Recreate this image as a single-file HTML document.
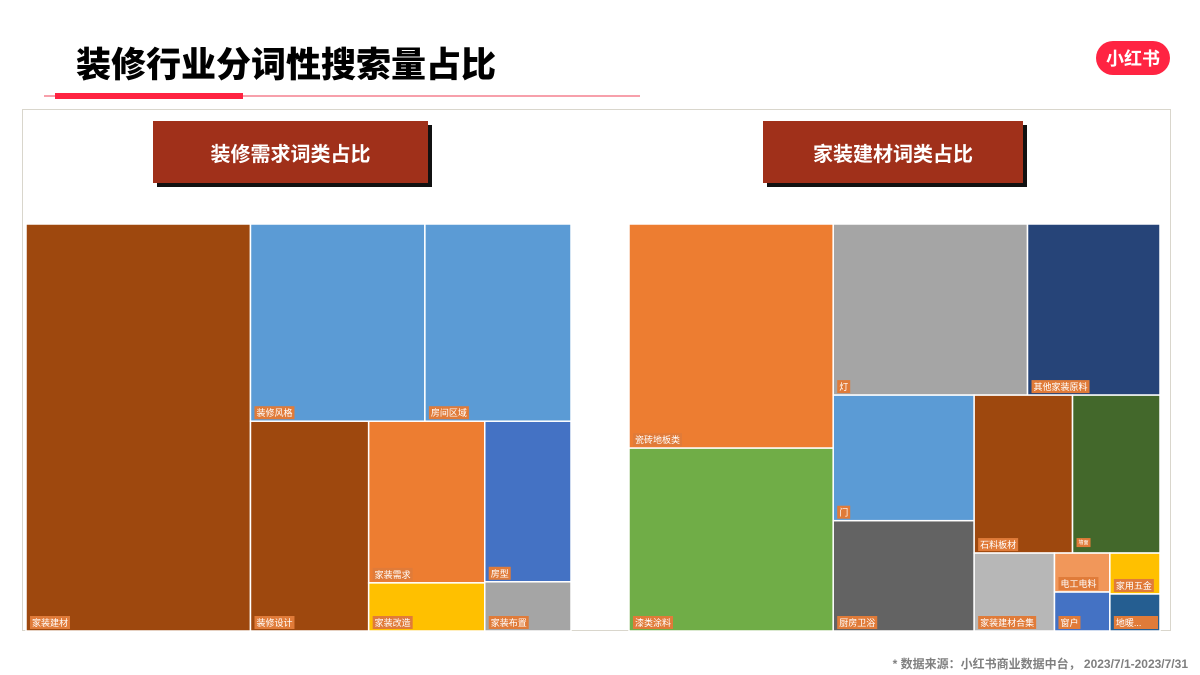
<!DOCTYPE html>
<html><head><meta charset="utf-8">
<style>
body{margin:0;width:1200px;height:675px;background:#fff;overflow:hidden;position:relative;font-family:"Liberation Sans","Noto Sans CJK SC",sans-serif}
.abs{position:absolute}
.hdr{position:absolute;background:#a0301a;color:#fff;font-weight:bold;font-size:20px;display:flex;align-items:center;justify-content:center;box-shadow:4px 4px 0 #111}
</style></head><body>
<div class="abs" style="left:76px;top:44px;font-size:35px;line-height:44px;font-weight:900;color:#000">装修行业分词性搜索量占比</div>
<div class="abs" style="left:44px;top:95px;width:596px;height:2px;background:#f7a0ab"></div>
<div class="abs" style="left:55px;top:93px;width:188px;height:6px;background:#ff2442"></div>
<div class="abs" style="left:1096px;top:41px;width:74px;height:34px;border-radius:17px;background:#ff2442;color:#fff;font-weight:bold;font-size:18px;display:flex;align-items:center;justify-content:center">小红书</div>
<div class="abs" style="left:22px;top:109px;width:1147px;height:521px;border:1px solid #d9d6cc;border-bottom:none"></div>
<div class="abs" style="left:22px;top:630px;width:1148px;height:1px;background:#d9d6cc"></div>
<div class="hdr" style="left:153px;top:121px;width:275px;height:62px">装修需求词类占比</div>
<div class="hdr" style="left:763px;top:121px;width:260px;height:62px">家装建材词类占比</div>
<svg class="abs" style="left:0;top:0" width="1200" height="675" id="svg"></svg>
<div class="abs" style="right:12px;top:655px;font-size:12px;font-weight:bold;color:#7f7f7f">* 数据来源：小红书商业数据中台， 2023/7/1-2023/7/31</div>
<script>
const leftNames=["家装建材","装修风格","房间区域","装修设计","家装需求","家装改造","房型","家装布置"];
const leftValues=[40.9,15.4,12.9,11.1,8.4,2.5,6.2,1.9];
const leftColors=["#9e480e","#5b9bd5","#5b9bd5","#9e480e","#ed7d31","#ffc000","#4472c4","#a5a5a5"];
const rightNames=["瓷砖地板类","漆类涂料","灯","其他家装原料","门","厨房卫浴","石料板材","墙面","家装建材合集","电工电料","窗户","家用五金","地暖..."];
const rightValues=[21.2,17.3,15.4,10.5,8.2,7.2,7.2,6.4,2.9,1.0,1.0,0.95,0.86];
const rightColors=["#ed7d31","#70ad47","#a5a5a5","#264478","#5b9bd5","#636363","#9e480e","#43682b","#b7b7b7","#f1975a","#4472c4","#ffc000","#255e91"];
// layout structure: 'h' = side by side, 'v' = stacked; numbers are leaf indices
const leftTree={d:'h',c:[0,{d:'v',c:[{d:'h',c:[1,2]},{d:'h',c:[3,{d:'h',c:[{d:'v',c:[4,5]},{d:'v',c:[6,7]}]}]}]}]};
const rightTree={d:'h',c:[{d:'v',c:[0,1]},{d:'v',c:[{d:'h',c:[2,3]},{d:'h',c:[{d:'v',c:[4,5]},{d:'v',c:[{d:'h',c:[6,7]},{d:'h',c:[8,{d:'v',c:[9,10]},{d:'v',c:[11,12]}]}]}]}]}]};
const NS="http://www.w3.org/2000/svg";const svg=document.getElementById('svg');
function sum(n,vals){return typeof n==='number'?vals[n]:n.c.reduce((a,b)=>a+sum(b,vals),0);}
function layout(n,vals,x,y,w,h,out){
 if(typeof n==='number'){out.push({i:n,x,y,w,h});return;}
 const t=sum(n,vals);let p=0;
 n.c.forEach(ch=>{const f=sum(ch,vals)/t;
  if(n.d==='h'){layout(ch,vals,x+p*w,y,f*w,h,out);}else{layout(ch,vals,x,y+p*h,w,f*h,out);}p+=f;});
}
function draw(tree,names,vals,colors,x,y,w,h,key){
 const out=[];layout(tree,vals,x,y,w,h,out);
 out.forEach(r=>{
  const g=document.createElementNS(NS,'g');
  
  
  const rc=document.createElementNS(NS,'rect');
  rc.setAttribute('x',r.x);rc.setAttribute('y',r.y);rc.setAttribute('width',r.w);rc.setAttribute('height',r.h);
  rc.setAttribute('fill',colors[r.i]);rc.setAttribute('stroke','#fff');rc.setAttribute('stroke-width','1.5');
  g.appendChild(rc);
  const fs=names[r.i]==='墙面'?5:9;
  const tw=names[r.i].length*fs+4;
  const lb=document.createElementNS(NS,'rect');
  lb.setAttribute('x',r.x+4);lb.setAttribute('y',r.y+r.h-15);lb.setAttribute('width',Math.min(tw,r.w-6));lb.setAttribute('height',fs+4);
  lb.setAttribute('fill','#e07b39');g.appendChild(lb);
  const t=document.createElementNS(NS,'text');
  t.setAttribute('x',r.x+6);t.setAttribute('y',r.y+r.h-15+fs+1);t.setAttribute('font-size',fs);t.setAttribute('fill','#fff');
  t.setAttribute('font-family','"Liberation Sans","Noto Sans CJK SC",sans-serif');
  t.textContent=names[r.i];g.appendChild(t);
  svg.appendChild(g);
 });
}
draw(leftTree,leftNames,leftValues,leftColors,26,224,545,407,'left');
draw(rightTree,rightNames,rightValues,rightColors,629,224,531,407,'right');
</script>
</body></html>
